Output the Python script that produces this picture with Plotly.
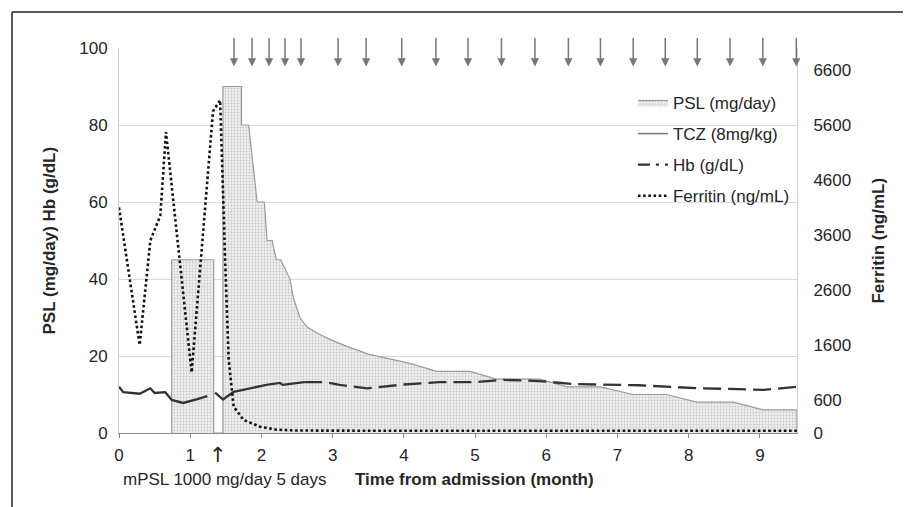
import plotly.graph_objects as go

# ---------------- data ----------------
psl_month = [0.74, 0.74, 1.33, 1.33, 1.46, 1.46, 1.72, 1.72, 1.82, 1.94, 2.04, 2.08, 2.15,
             2.21, 2.27, 2.40, 2.45, 2.54, 2.64, 2.80, 3.00, 3.20, 3.50, 3.80, 4.10, 4.46,
             4.93, 5.30, 5.91, 6.29, 6.76, 7.22, 7.69, 8.11, 8.63, 9.04, 9.52, 9.52]
psl_dose = [0, 45, 45, 0, 0, 90, 90, 80, 80, 60, 60, 50, 50,
            45, 45, 40, 35, 30, 27.5, 25.8, 24, 22.5, 20.5, 19.3, 18, 16,
            16, 14, 14, 12, 12, 10, 10, 8, 8, 6, 6, 0]

tcz_month = [1.615, 1.868, 2.107, 2.331, 2.556, 3.076, 3.47, 3.97, 4.45, 4.90,
             5.37, 5.84, 6.31, 6.76, 7.22, 7.67, 8.12, 8.58, 9.04, 9.51]

hb_month = [0.00, 0.06, 0.29, 0.44, 0.50, 0.60, 0.65, 0.74, 0.90, 1.10, 1.24, None,
            1.35, 1.46, 1.61, 2.07, 2.26, 2.30, 2.60,
            2.90, 3.10, 3.48, 4.00, 4.50, 5.00, 5.40, 5.90, 6.40, 7.30, 8.15, 8.70, 9.05, 9.52]
hb_value = [12.0, 10.6, 10.2, 11.6, 10.4, 10.6, 10.6, 8.6, 7.8, 8.8, 9.6, None,
            10.5, 8.7, 10.7, 12.5, 13.0, 12.5, 13.2,
            13.2, 12.5, 11.6, 12.6, 13.2, 13.2, 13.8, 13.5, 12.7, 12.4, 11.6, 11.4, 11.2, 12.0]
hb_solid_until = 2.60  # Hb drawn solid up to this month, dashed afterwards

ferritin_month = [0.00, 0.29, 0.44, 0.58, 0.66, 1.02, 1.32, 1.42, 1.49, 1.54, 1.61, 1.75,
                  1.98, 2.21, 2.50, 3.00, 4.00, 5.00, 6.00, 7.00, 8.00, 9.00, 9.52]
ferritin_value = [4100, 1600, 3500, 3950, 5470, 1100, 5850, 6050, 3150, 1330, 480, 236,
                  115, 60, 45, 40, 40, 40, 40, 40, 40, 40, 40]

x_ticks = [0, 1, 2, 3, 4, 5, 6, 7, 8, 9]
y_ticks = [0, 20, 40, 60, 80, 100]
y2_ticks = [0, 600, 1600, 2600, 3600, 4600, 5600, 6600]

# ---------------- figure ----------------
FONT = "Arial, 'Liberation Sans', sans-serif"
TXT = "#262626"
fig = go.Figure()

fig.add_trace(go.Scatter(
    x=psl_month, y=psl_dose, name="PSL (mg/day)", mode="lines",
    line=dict(color="#9a9a9a", width=1.2), fill="tozeroy",
    fillcolor="#e4e4e4",
    fillpattern=dict(shape=".", size=3, solidity=0.3, fgcolor="#a0a0a0", bgcolor="#efefef"),
    legendrank=1,
))

fig.add_trace(go.Scatter(
    x=[None], y=[None], name="TCZ (8mg/kg)", mode="lines",
    line=dict(color="#777777", width=1.5), legendrank=2,
))

solid_x, solid_y, dash_x, dash_y = [], [], [], []
for m, v in zip(hb_month, hb_value):
    if m is None or m <= hb_solid_until:
        solid_x.append(m); solid_y.append(v)
    if m is not None and m >= hb_solid_until:
        dash_x.append(m); dash_y.append(v)

fig.add_trace(go.Scatter(x=solid_x, y=solid_y, mode="lines", showlegend=False,
                         line=dict(color="#333333", width=2.3), connectgaps=False))
fig.add_trace(go.Scatter(x=dash_x, y=dash_y, mode="lines", showlegend=False,
                         line=dict(color="#333333", width=2.3, dash="18px,7px")))
fig.add_trace(go.Scatter(x=[None], y=[None], name="Hb (g/dL)", mode="lines",
                         line=dict(color="#333333", width=2.3, dash="12px,6px,3px,6px"),
                         legendrank=3))

fig.add_trace(go.Scatter(
    x=ferritin_month, y=ferritin_value, name="Ferritin (ng/mL)", mode="lines", yaxis="y2",
    line=dict(color="#111111", width=2.6, dash="2.6px,2.6px"), legendrank=4,
))

for m in tcz_month:
    fig.add_annotation(x=m, y=95.2, xref="x", yref="y", text="", showarrow=True,
                       ax=0, ay=-30, arrowhead=2, arrowsize=1.1, arrowwidth=1.5,
                       arrowcolor="#777777")

# text annotations
fig.add_annotation(x=1.39, y=-0.057, xref="x", yref="paper", text="↑", showarrow=False,
                   font=dict(size=21, color=TXT, family="DejaVu Sans"),
                   xanchor="center", yanchor="middle")
fig.add_annotation(x=0.1563, y=-0.122, xref="paper", yref="paper",
                   text="mPSL 1000 mg/day 5 days", showarrow=False,
                   font=dict(size=17, color=TXT, family=FONT), xanchor="center", yanchor="middle")
fig.add_annotation(x=0.5236, y=-0.122, xref="paper", yref="paper",
                   text="<b>Time from admission (month)</b>", showarrow=False,
                   font=dict(size=17, color=TXT, family=FONT), xanchor="center", yanchor="middle")
fig.add_annotation(x=-0.1018, y=0.5, xref="paper", yref="paper", textangle=-90,
                   text="<b>PSL (mg/day) Hb (g/dL)</b>", showarrow=False,
                   font=dict(size=17, color=TXT, family=FONT), xanchor="center", yanchor="middle")
fig.add_annotation(x=1.1195, y=0.5, xref="paper", yref="paper", textangle=-90,
                   text="<b>Ferritin (ng/mL)</b>", showarrow=False,
                   font=dict(size=17, color=TXT, family=FONT), xanchor="center", yanchor="middle")

# outer frame (top and left edges visible)
fig.add_shape(type="line", xref="paper", yref="paper", x0=-0.1578, x1=1.3, y0=1.0935, y1=1.0935,
              line=dict(color="#222222", width=1.5))
fig.add_shape(type="line", xref="paper", yref="paper", x0=-0.1578, x1=-0.1578, y0=1.0935, y1=-0.3,
              line=dict(color="#222222", width=1.5))

fig.update_layout(
    width=911, height=507,
    margin=dict(l=111, r=122, t=40, b=82),
    paper_bgcolor="white", plot_bgcolor="white",
    font=dict(family=FONT, size=17, color=TXT),
    showlegend=True,
    legend=dict(x=0.758, y=0.904, xanchor="left", yanchor="top", bgcolor="rgba(0,0,0,0)",
                font=dict(size=17, color=TXT), tracegroupgap=6, traceorder="grouped"),
    xaxis=dict(range=[0, 9.52], tickvals=x_ticks, showgrid=False, zeroline=False,
               showline=True, linecolor="#8a8a8a", linewidth=1.3, ticks="outside",
               ticklen=4, tickcolor="#8a8a8a", ticklabelstandoff=2,
               tickfont=dict(size=17, color=TXT)),
    yaxis=dict(range=[0, 100], tickvals=y_ticks, showgrid=True, gridcolor="#d9d9d9",
               gridwidth=1.3, zeroline=False, showline=True, linecolor="#d0d0d0",
               ticks="", ticklabelstandoff=7, tickfont=dict(size=17, color=TXT)),
    yaxis2=dict(range=[0, 7000], tickvals=y2_ticks, overlaying="y", side="right",
                showgrid=False, zeroline=False, showline=True, linecolor="#d0d0d0",
                ticks="", ticklabelstandoff=12, tickfont=dict(size=17, color=TXT)),
)

# separate legend groups so the group gap sets row spacing
for i, tr in enumerate(fig.data):
    tr.legendgroup = f"g{i}"

fig.write_html("out.html")
